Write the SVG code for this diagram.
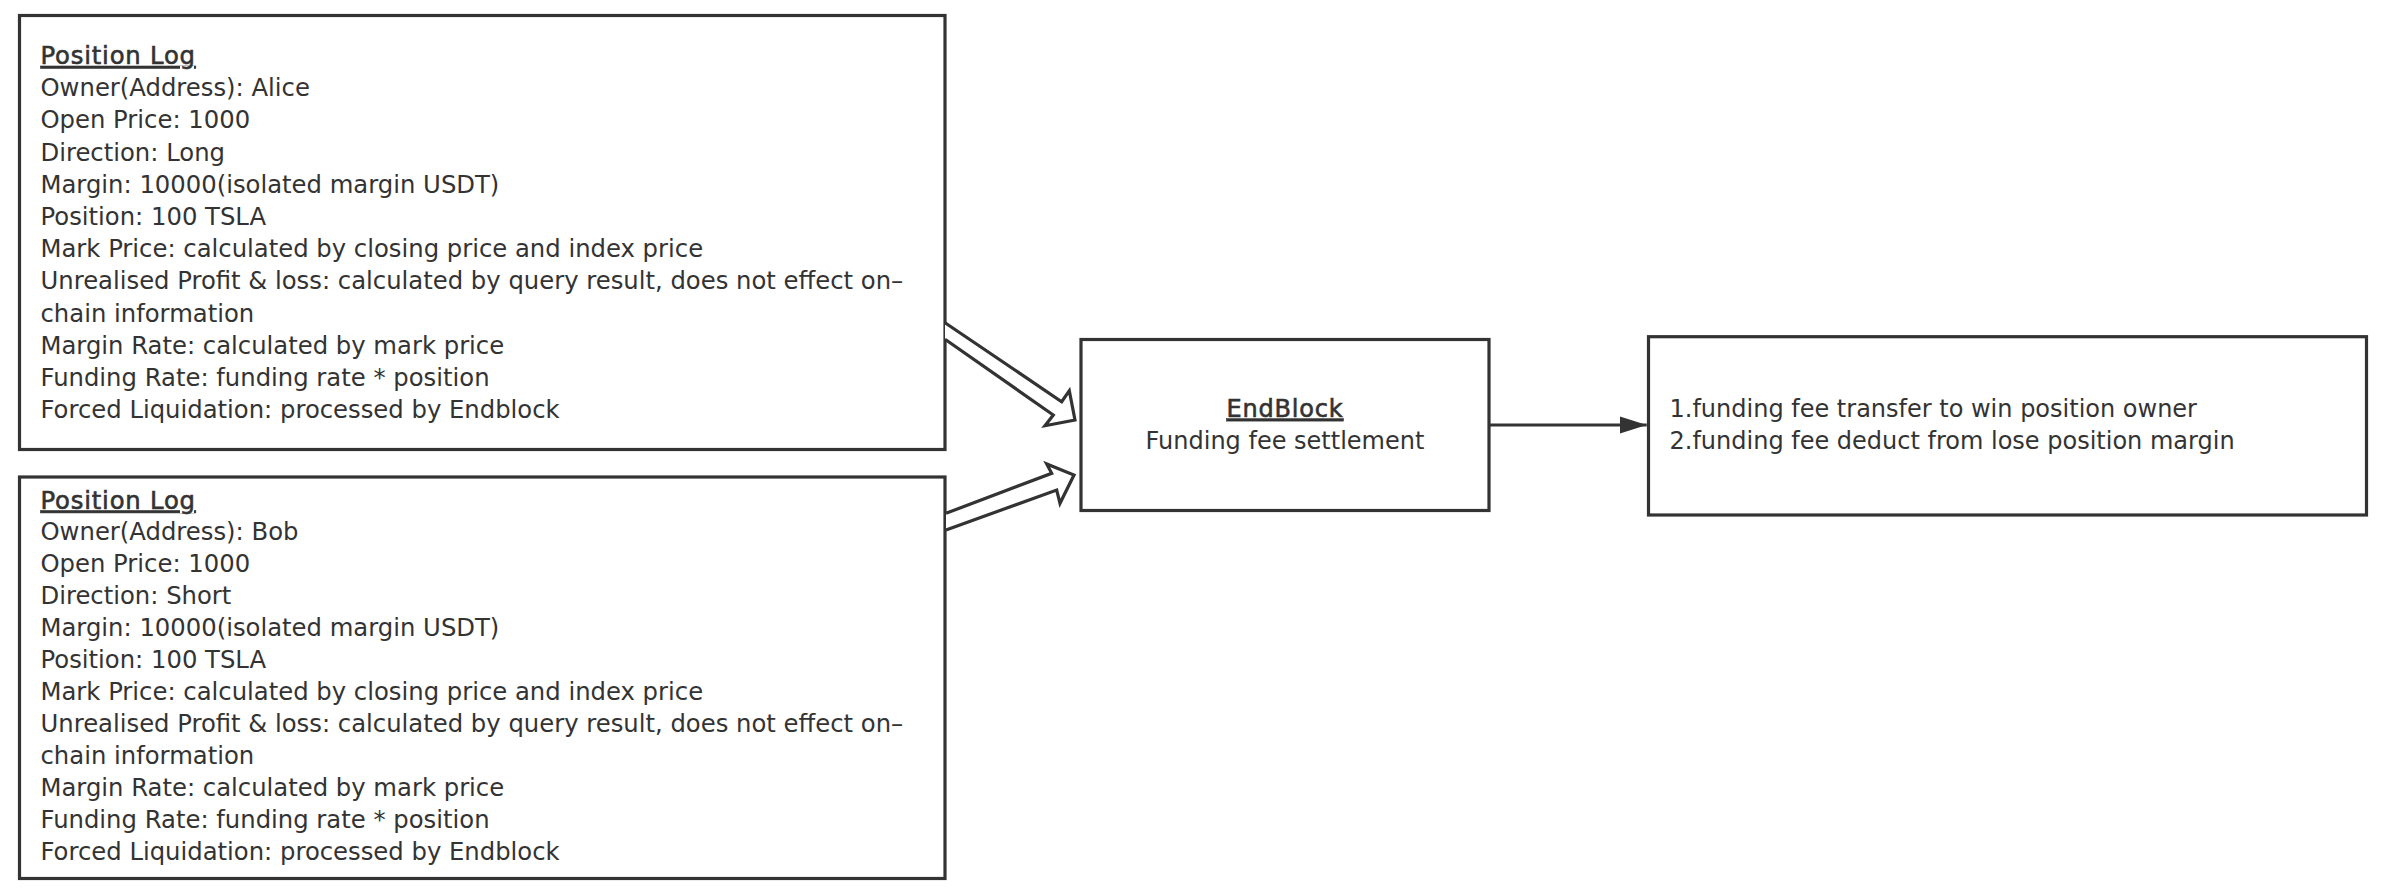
<svg xmlns="http://www.w3.org/2000/svg" width="2386" height="894" viewBox="0 0 2386 894">
<style>
.box{fill:#ffffff;stroke:#333333;stroke-width:3.2}
.t{font-family:"DejaVu Sans","Liberation Sans",sans-serif;font-size:24px;fill:#333333}
.w{font-size:24.3px}
.h{text-decoration:underline;stroke:#333333;stroke-width:0.6;letter-spacing:0.8px}
.c{text-anchor:middle}
.hollow{fill:#ffffff;stroke:#333333;stroke-width:3.2;stroke-linejoin:miter}
.line{fill:none;stroke:#333333;stroke-width:3.2}
</style>
<defs>
<marker id="tri" markerUnits="userSpaceOnUse" markerWidth="28" markerHeight="18" refX="27" refY="9" orient="auto">
<path d="M0,0.5 L27,9 L0,17.5 Z" fill="#333333"/>
</marker>
</defs>
<rect width="2386" height="894" fill="#ffffff"/>
<g id="position-log-alice">
<rect class="box" x="19.5" y="15.5" width="925.5" height="434"/>
<text class="t w" x="40.5" y="64"><tspan class="h">Position Log</tspan><tspan x="40.5" dy="32.2">Owner(Address): Alice</tspan><tspan x="40.5" dy="32.2">Open Price: 1000</tspan><tspan x="40.5" dy="32.2">Direction: Long</tspan><tspan x="40.5" dy="32.2">Margin: 10000(isolated margin USDT)</tspan><tspan x="40.5" dy="32.2">Position: 100 TSLA</tspan><tspan x="40.5" dy="32.2">Mark Price: calculated by closing price and index price</tspan><tspan x="40.5" dy="32.2">Unrealised Profit &amp; loss: calculated by query result, does not effect on–</tspan><tspan x="40.5" dy="32.2">chain information</tspan><tspan x="40.5" dy="32.2">Margin Rate: calculated by mark price</tspan><tspan x="40.5" dy="32.2">Funding Rate: funding rate * position</tspan><tspan x="40.5" dy="32.2">Forced Liquidation: processed by Endblock</tspan></text>
</g>
<g id="position-log-bob">
<rect class="box" x="19.5" y="477" width="925.5" height="401.5"/>
<text class="t w" x="40.5" y="508.5"><tspan class="h">Position Log</tspan><tspan x="40.5" dy="31.97">Owner(Address): Bob</tspan><tspan x="40.5" dy="31.97">Open Price: 1000</tspan><tspan x="40.5" dy="31.97">Direction: Short</tspan><tspan x="40.5" dy="31.97">Margin: 10000(isolated margin USDT)</tspan><tspan x="40.5" dy="31.97">Position: 100 TSLA</tspan><tspan x="40.5" dy="31.97">Mark Price: calculated by closing price and index price</tspan><tspan x="40.5" dy="31.97">Unrealised Profit &amp; loss: calculated by query result, does not effect on–</tspan><tspan x="40.5" dy="31.97">chain information</tspan><tspan x="40.5" dy="31.97">Margin Rate: calculated by mark price</tspan><tspan x="40.5" dy="31.97">Funding Rate: funding rate * position</tspan><tspan x="40.5" dy="31.97">Forced Liquidation: processed by Endblock</tspan></text>
</g>
<g id="endblock">
<rect class="box" x="1081" y="339.5" width="408" height="171"/>
<text class="t c" x="1285" y="416.7"><tspan class="h">EndBlock</tspan><tspan x="1285" dy="32.6">Funding fee settlement</tspan></text>
</g>
<g id="settlement-result">
<rect class="box" x="1648.5" y="336.7" width="718" height="178.3"/>
<text class="t" x="1669.5" y="416.7"><tspan>1.funding fee transfer to win position owner</tspan><tspan x="1669.5" dy="32.6">2.funding fee deduct from lose position margin</tspan></text>
</g>
<g id="connectors">
<path class="hollow" d="M945,322.7 L1061.7,401.7 L1069.3,390.7 L1075,420 L1045,425.7 L1053.3,415 L945,339.3"/>
<path class="hollow" d="M946,513.3 L1051.7,473.3 L1046.7,464 L1074,475 L1060,503.3 L1056.7,490 L946,530"/>
<path class="line" d="M1489,425 L1646.7,425" marker-end="url(#tri)"/>
</g>
</svg>
